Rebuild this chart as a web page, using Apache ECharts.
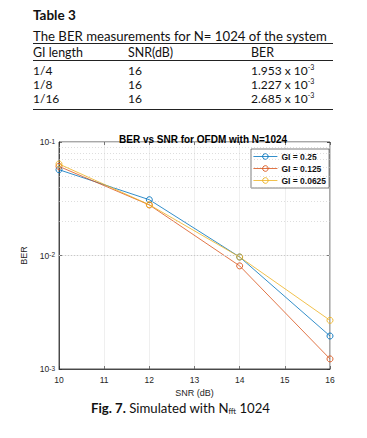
<!DOCTYPE html>
<html><head><meta charset="utf-8">
<script src="https://cdn.jsdelivr.net/npm/echarts@6/dist/echarts.min.js"></script>
<style>
html,body{margin:0;padding:0;background:#fff;width:367px;height:438px;overflow:hidden;}
#chart{position:absolute;left:0;top:0;width:367px;height:438px;}
.t{position:absolute;font-family:Lato,"Open Sans",sans-serif;color:#111;white-space:nowrap;font-size:12px;line-height:14px;}
.rule{position:absolute;left:33px;width:300px;height:1px;background:#222;}
sup{font-size:7px;vertical-align:5px;line-height:0;}
sub{font-size:7.5px;vertical-align:-1px;line-height:0;}
</style></head>
<body>
<div id="chart"></div>
<div class="t" style="left:33px;top:8px;font-weight:bold;font-size:13.5px;">Table 3</div>
<div class="t" style="left:33px;top:29px;font-size:13.2px;">The BER measurements for N= 1024 of the system</div>
<div class="rule" style="top:43px;"></div>
<div class="t" style="left:33px;top:46px;font-size:12.4px;">GI length</div>
<div class="t" style="left:128px;top:46px;font-size:12.4px;">SNR(dB)</div>
<div class="t" style="left:251px;top:46px;font-size:12.4px;">BER</div>
<div class="rule" style="top:60px;height:0.8px;"></div>
<div id="rows"></div>
<div class="rule" style="top:109px;"></div>
<div class="t" style="left:91px;top:401px;font-size:13.2px;"><b>Fig. 7.</b> Simulated with N<sub>fft</sub> 1024</div>
<script>
// Table data
const tableGI = ['1/4', '1/8', '1/16'];
const tableSNR = ['16', '16', '16'];
const tableBER = ['1.953', '1.227', '2.685'];
const tableExp = '-3';

// Chart data
const snr = [10, 12, 14, 16];
const ber025 = [0.057, 0.031, 0.0097, 0.001953];
const ber0125 = [0.061, 0.0279, 0.0081, 0.001227];
const ber00625 = [0.064, 0.028, 0.0097, 0.002685];
const seriesNames = ['GI = 0.25', 'GI = 0.125', 'GI = 0.0625'];
const xTicks = [10, 11, 12, 13, 14, 15, 16];
const yMinorGrid = [0.002,0.003,0.004,0.005,0.006,0.007,0.008,0.009,0.02,0.03,0.04,0.05,0.06,0.07,0.08,0.09];

const rowsEl = document.getElementById('rows');
const rowTops = [64, 78, 92];
tableGI.forEach((g, i) => {
  rowsEl.insertAdjacentHTML('beforeend',
    `<div class="t" style="left:33px;top:${rowTops[i]}px;">${g}</div>` +
    `<div class="t" style="left:128px;top:${rowTops[i]}px;">${tableSNR[i]}</div>` +
    `<div class="t" style="left:251px;top:${rowTops[i]}px;">${tableBER[i]} x 10<sup>${tableExp}</sup></div>`);
});

const colors = ['#0072BD', '#D95319', '#EDB120'];
const chart = echarts.init(document.getElementById('chart'), null, {renderer: 'svg'});
const datasets = [ber025, ber0125, ber00625];
const series = datasets.map((d, i) => ({
  name: seriesNames[i],
  type: 'line',
  data: d.map((v, j) => [snr[j], v]),
  symbol: 'circle',
  symbolSize: 6,
  showSymbol: true,
  color: colors[i],
  lineStyle: {width: 0.8, color: colors[i]},
  itemStyle: {color: 'rgba(255,255,255,0)', borderColor: colors[i], borderWidth: 0.9},
  z: 3 + i,
  animation: false
}));
series[0].markLine = {
  silent: true, symbol: 'none', animation: false,
  label: {show: false},
  lineStyle: {type: [1, 2], color: '#c8c8c8', width: 0.6},
  data: yMinorGrid.map(v => ({yAxis: v}))
};

const FONT = 'Liberation Sans';
chart.setOption({
  animation: false,
  title: {
    text: 'BER vs SNR for OFDM with N=1024',
    left: 114, top: 129,
    textStyle: {fontFamily: FONT, fontSize: 10, fontWeight: 'bold', color: '#000'}
  },
  grid: {left: 59, right: 37, top: 142, bottom: 69, show: true, borderColor: '#262626', borderWidth: 0.8, backgroundColor: '#fff'},
  legend: {
    left: 251, top: 149, orient: 'vertical',
    padding: [3, 3, 3, 2], itemGap: 3, itemWidth: 24, itemHeight: 7,
    borderColor: '#262626', borderWidth: 0.6, backgroundColor: '#fff',
    itemStyle: {borderWidth: 0.9},
    lineStyle: {width: 0.8},
    textStyle: {fontFamily: FONT, fontSize: 8.5, fontWeight: 'bold', color: '#111', padding: [0, 0, 0, -1]},
    data: seriesNames
  },
  xAxis: [{
    type: 'value', min: 10, max: 16, interval: 1,
    name: 'SNR (dB)', nameLocation: 'middle', nameGap: 18,
    nameTextStyle: {fontFamily: FONT, fontSize: 9, color: '#262626'},
    axisLine: {show: true, lineStyle: {color: '#262626', width: 0.8}},
    axisTick: {inside: true, length: 3, lineStyle: {color: '#262626', width: 0.6}},
    axisLabel: {fontFamily: FONT, fontSize: 8.5, color: '#262626', margin: 6},
    splitLine: {show: true, lineStyle: {color: '#e4e4e4', width: 0.6}}
  }, {
    type: 'value', min: 10, max: 16, interval: 1, position: 'top',
    axisLine: {show: false}, axisLabel: {show: false},
    axisTick: {inside: true, length: 3, lineStyle: {color: '#262626', width: 0.6}},
    splitLine: {show: false}
  }],
  yAxis: [{
    type: 'log', logBase: 10, min: 0.001, max: 0.1,
    name: 'BER', nameLocation: 'middle', nameGap: 26,
    nameTextStyle: {fontFamily: FONT, fontSize: 9, color: '#262626'},
    axisLine: {show: true, lineStyle: {color: '#262626', width: 0.8}},
    axisTick: {inside: true, length: 3, lineStyle: {color: '#262626', width: 0.6}},
    axisLabel: {
      margin: 4,
      formatter: v => {
        const e = Math.round(Math.log10(v));
        return '{b|10}{s|' + e + '}';
      },
      rich: {
        b: {fontFamily: FONT, fontSize: 8.5, color: '#262626', lineHeight: 9, verticalAlign: 'bottom'},
        s: {fontFamily: FONT, fontSize: 6.5, color: '#262626', lineHeight: 7, verticalAlign: 'top', padding: [0, 0, 5, 0]}
      }
    },
    splitLine: {show: true, lineStyle: {color: '#e4e4e4', width: 0.6}}
  }, {
    type: 'log', logBase: 10, min: 0.001, max: 0.1, position: 'right',
    axisLine: {show: false}, axisLabel: {show: false},
    axisTick: {inside: true, length: 3, lineStyle: {color: '#262626', width: 0.6}},
    splitLine: {show: false}
  }],
  series: series
});
</script>
</body></html>
